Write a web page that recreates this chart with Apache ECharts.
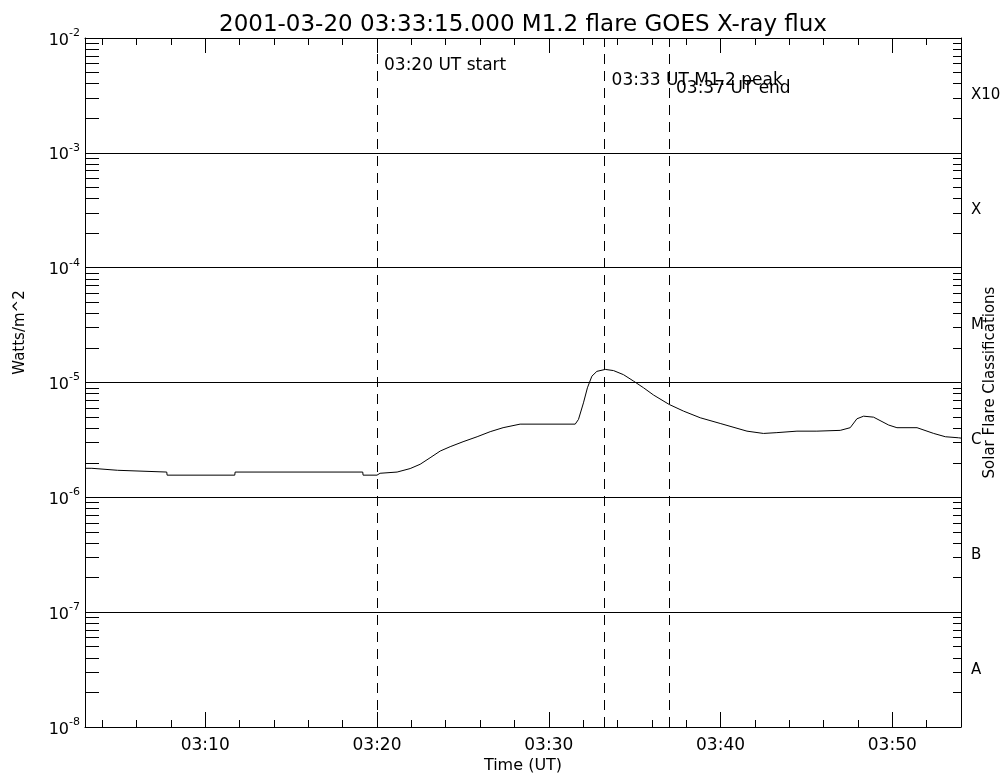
<!DOCTYPE html>
<html>
<head>
<meta charset="utf-8">
<title>GOES X-ray flux</title>
<script src="https://cdn.jsdelivr.net/npm/echarts@6/dist/echarts.min.js"></script>
<style>
  html, body { margin: 0; background: #fff; }
  #main { width: 1004px; height: 776px; }
</style>
</head>
<body>
<div id="main"></div>
<script>
// minutes after 03:00 UT
var times = [3.0, 3.4, 3.41, 4.9, 4.92, 7.76, 7.78, 11.72, 11.74, 19.17, 19.19, 20.0, 20.18,
  21.17, 21.93, 22.51, 23.09, 23.68, 24.26, 25.01, 25.83, 26.59, 27.34, 28.33, 31.54, 31.73,
  32.02, 32.25, 32.51, 32.8, 33.29, 33.77, 34.35, 34.93, 35.52, 36.1, 37.01, 37.85, 38.82,
  39.98, 41.54, 42.5, 43.28, 44.45, 45.61, 46.97, 47.55, 47.94, 48.33, 48.91, 49.79, 50.27,
  51.44, 52.41, 53.09, 53.86, 54.0];
// flux in Watts/m^2
var flux = [1.79e-6, 1.79e-6, 1.72e-6, 1.72e-6, 1.66e-6, 1.66e-6, 1.56e-6, 1.56e-6, 1.66e-6,
  1.66e-6, 1.56e-6, 1.56e-6, 1.62e-6, 1.66e-6, 1.78e-6, 1.94e-6, 2.21e-6, 2.53e-6, 2.76e-6,
  3.05e-6, 3.37e-6, 3.73e-6, 4.04e-6, 4.34e-6, 4.34e-6, 4.77e-6, 6.65e-6, 8.99e-6, 1.135e-5,
  1.25e-5, 1.30e-5, 1.27e-5, 1.17e-5, 1.03e-5, 8.99e-6, 7.78e-6, 6.44e-6, 5.63e-6, 4.93e-6,
  4.40e-6, 3.77e-6, 3.60e-6, 3.66e-6, 3.77e-6, 3.77e-6, 3.83e-6, 4.04e-6, 4.83e-6, 5.09e-6,
  4.99e-6, 4.26e-6, 4.04e-6, 4.04e-6, 3.60e-6, 3.37e-6, 3.30e-6, 3.28e-6];

var decades = [1e-8, 1e-7, 1e-6, 1e-5, 1e-4, 1e-3, 1e-2];
var decadeExp = ['-8', '-7', '-6', '-5', '-4', '-3', '-2'];
var classLabels = ['A', 'B', 'C', 'M', 'X', 'X10'];
var classValues = [3.16e-8, 3.16e-7, 3.16e-6, 3.16e-5, 3.16e-4, 3.16e-3];
var timeLabels = [10, 20, 30, 40, 50];

var eventTimes = [20, 33.25, 37];
var eventLabels = ['03:20 UT start', '03:33 UT M1.2 peak', '03:37 UT end'];
var eventLabelFlux = [5.8e-3, 4.3e-3, 3.6e-3];

// minor ticks: 2..9 in each decade, every 2 minutes on time axis
var minorY = [];
for (var d = 0; d < 6; d++) {
  for (var m = 2; m <= 9; m++) minorY.push(m * decades[d]);
}
var minorX = [];
for (var t = 4; t <= 54; t += 2) minorX.push(t);

var FONT = 'DejaVu Sans';
var black = { color: '#000', width: 1 };

function timeAxis(pos, ticks, len, opts) {
  var ax = {
    type: 'value', min: 3, max: 54, position: pos,
    axisLine: { show: true, lineStyle: black },
    axisTick: { show: true, inside: true, length: len, customValues: ticks, lineStyle: black },
    axisLabel: { show: false },
    splitLine: { show: false }
  };
  return Object.assign(ax, opts || {});
}

function fluxAxis(pos, opts) {
  var ax = {
    type: 'log', logBase: 10, min: 1e-8, max: 1e-2, position: pos,
    axisLine: { show: true, lineStyle: black },
    axisLabel: { show: false },
    splitLine: { show: false }
  };
  return Object.assign(ax, opts || {});
}

var chart = echarts.init(document.getElementById('main'));

var option = {
  animation: false,
  backgroundColor: '#fff',
  textStyle: { fontFamily: FONT, color: '#000' },
  title: {
    text: '2001-03-20 03:33:15.000 M1.2 flare GOES X-ray flux',
    left: 518, top: 9, textAlign: 'center',
    textStyle: { fontFamily: FONT, fontSize: 23, fontWeight: 'normal', color: '#000' }
  },
  grid: { left: 85, right: 43, top: 38, bottom: 49, containLabel: false, outerBoundsMode: 'none' },
  xAxis: [
    timeAxis('bottom', minorX, 7, {
      axisLabel: {
        show: true, customValues: timeLabels, margin: 10,
        fontFamily: FONT, fontSize: 17, color: '#000',
        formatter: function (v) { return '03:' + v; }
      },
      name: 'Time (UT)', nameLocation: 'middle', nameGap: 31, nameMoveOverlap: false,
      nameTextStyle: { fontFamily: FONT, fontSize: 16, color: '#000' }
    }),
    timeAxis('bottom', timeLabels, 15, { axisLine: { show: false } }),
    timeAxis('top', minorX, 7),
    timeAxis('top', timeLabels, 15, { axisLine: { show: false } })
  ],
  yAxis: [
    fluxAxis('left', {
      axisTick: { show: false, customValues: decades },
      splitLine: { show: true, lineStyle: black },
      axisLabel: {
        show: true, customValues: decades, margin: 5,
        formatter: function (v) {
          return '{b|10}{s|' + decadeExp[Math.round(Math.log10(v)) + 8] + '}';
        },
        rich: {
          b: { fontFamily: FONT, fontSize: 16, color: '#000', verticalAlign: 'bottom' },
          s: { fontFamily: FONT, fontSize: 11, color: '#000', verticalAlign: 'bottom', padding: [0, 0, 10, 0] }
        }
      },
      name: 'Watts/m^2', nameLocation: 'middle', nameGap: 57, nameRotate: 90, nameMoveOverlap: false,
      nameTextStyle: { fontFamily: FONT, fontSize: 15, color: '#000', padding: [0, 0, 0, 100] }
    }),
    fluxAxis('left', {
      axisLine: { show: false },
      axisTick: { show: true, inside: true, length: 14, customValues: minorY, lineStyle: black }
    }),
    fluxAxis('right', {
      axisTick: { show: true, inside: true, length: 8, customValues: minorY, lineStyle: black },
      axisLabel: {
        show: true, customValues: classValues, margin: 10,
        fontFamily: FONT, fontSize: 15, color: '#000',
        formatter: function (v) { return classLabels[Math.round(Math.log10(v) + 7.5)]; }
      },
      name: 'Solar Flare Classifications', nameLocation: 'middle', nameGap: 22, nameRotate: 90,
      nameMoveOverlap: false,
      nameTextStyle: { fontFamily: FONT, fontSize: 15, color: '#000' }
    })
  ],
  series: [
    {
      type: 'line',
      xAxisIndex: 0, yAxisIndex: 0,
      data: times.map(function (t, i) { return [t, flux[i]]; }),
      showSymbol: false,
      lineStyle: { color: '#000', width: 1 },
      silent: true,
      markLine: {
        silent: true, symbol: 'none',
        label: { show: false },
        lineStyle: { color: '#000', width: 1, type: [10, 7] },
        data: eventTimes.map(function (t) { return { xAxis: t }; })
      }
    },
    {
      type: 'scatter',
      xAxisIndex: 0, yAxisIndex: 0,
      symbolSize: 0,
      itemStyle: { color: '#000', opacity: 1 },
      silent: true,
      data: eventTimes.map(function (t, i) { return [t, eventLabelFlux[i]]; }),
      label: {
        show: true, position: 'right', distance: 7,
        fontFamily: FONT, fontSize: 17, color: '#000', opacity: 1,
        formatter: function (p) { return eventLabels[p.dataIndex]; }
      }
    }
  ]
};

chart.setOption(option);
</script>
</body>
</html>
